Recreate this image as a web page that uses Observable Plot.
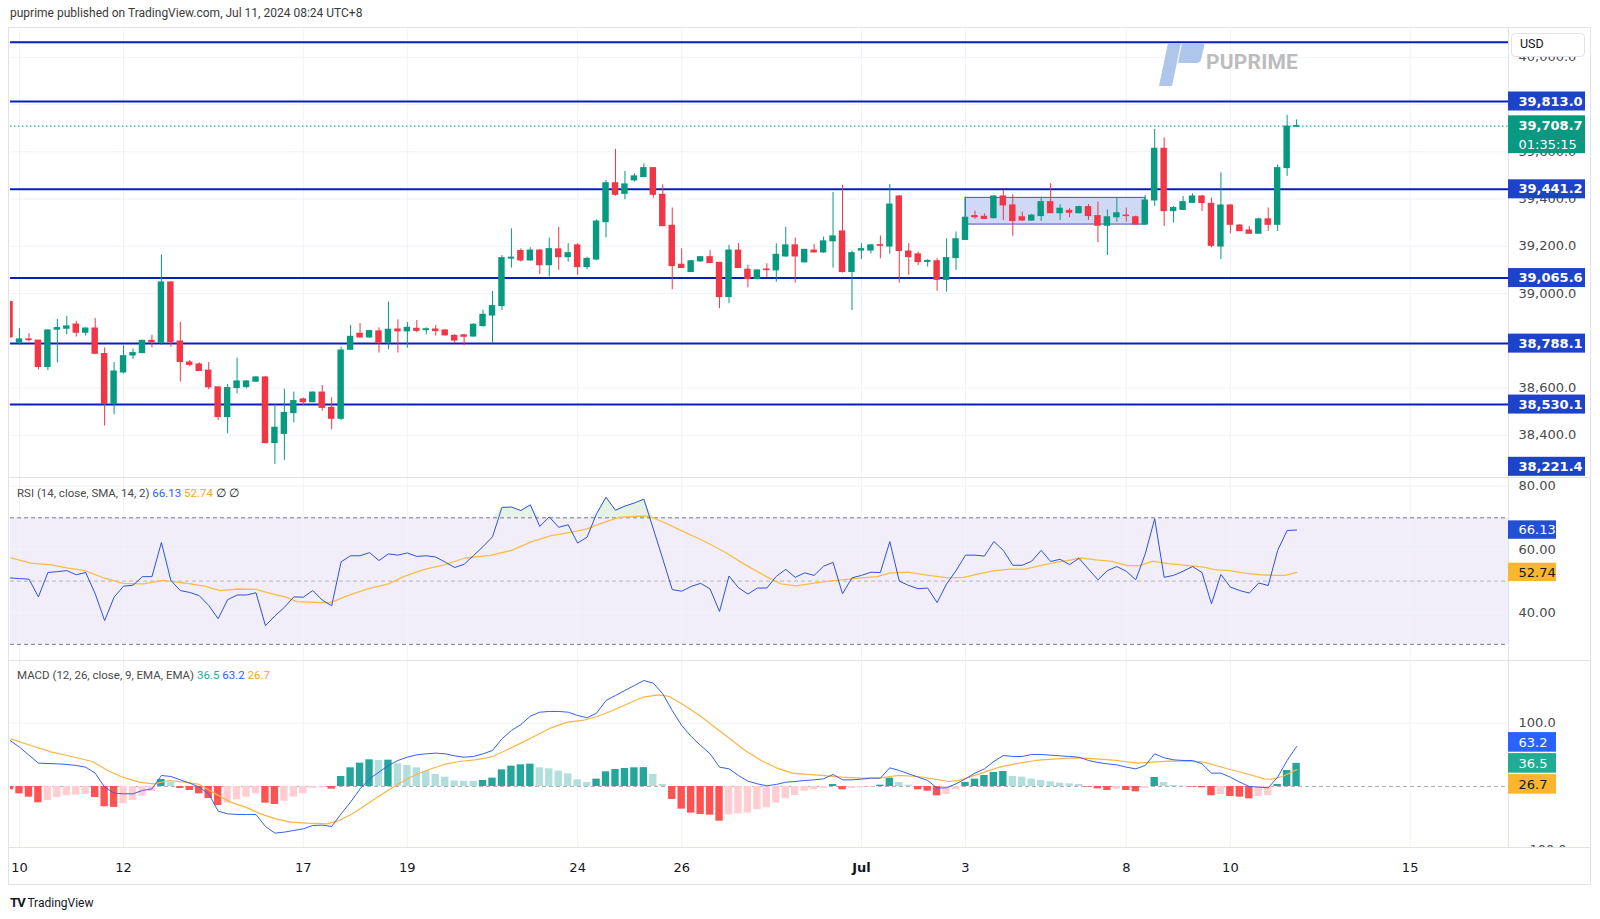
<!DOCTYPE html>
<html>
<head>
<meta charset="utf-8">
<script src="https://cdn.jsdelivr.net/npm/d3@7"></script>
<script src="https://cdn.jsdelivr.net/npm/@observablehq/plot@0.6"></script>
<style>
html,body{margin:0;padding:0;background:#fff;}
#wrap{position:relative;width:1600px;height:919px;overflow:hidden;font-family:Roboto,"Liberation Sans",sans-serif;color:#131722;}
.abs{position:absolute;}
.pane svg{display:block;}
.sep{position:absolute;left:9px;width:1581px;height:1px;background:#e0e3eb;}
</style>
</head>
<body>
<div id="wrap">
  <div class="abs" id="hdr" style="left:10px;top:6px;font-size:12px;color:#3a3a3a;white-space:nowrap">puprime published on TradingView.com, Jul 11, 2024 08:24 UTC+8</div>
  <div class="abs" style="left:8px;top:27px;width:1581px;height:856px;border:1px solid #e0e3eb;"></div>
  <div class="abs pane" id="pMain" style="left:0;top:27px"></div>
  <div class="abs pane" id="pRsi" style="left:0;top:477px"></div>
  <div class="abs pane" id="pMacd" style="left:0;top:660px"></div>
  <div class="abs pane" id="pTime" style="left:0;top:847px"></div>
  <div class="sep" style="top:477px"></div>
  <div class="sep" style="top:660px"></div>
  <div class="sep" style="top:847px"></div>
  <!-- watermark -->
  <svg class="abs" style="left:1150px;top:40px" width="160" height="50" viewBox="0 0 160 50">
    <path d="M18 3 L31 3 L22 46 L9 46 Z" fill="#aec5ec"/>
    <path d="M32 3 L52 3 Q55 3 54 7 L51 20 Q50 23 46 23 L28 23 Z" fill="#aec5ec"/>
  </svg>
  <div class="abs" style="left:1206px;top:50px;font:bold 21px Roboto,sans-serif;color:#bcbcbc;letter-spacing:0.2px">PUPRIME</div>
  <!-- currency button -->
  <div class="abs" style="left:1511px;top:33px;width:74px;height:24px;border:1px solid #e0e3eb;border-radius:4px;background:#fff;font-size:12.5px;line-height:19px;padding-left:8px;box-sizing:border-box">USD</div>
  <div class="abs" id="legRsi" style="left:17px;top:486px;font-size:11.5px;white-space:nowrap;color:#4a4a4a"></div>
  <div class="abs" id="legMacd" style="left:17px;top:668px;font-size:11.5px;white-space:nowrap;color:#4a4a4a"></div>
  <div class="abs" style="left:10px;top:895px;font-size:12px;white-space:nowrap;color:#131722"><b style="letter-spacing:-1px;font-size:13px">TV</b> TradingView</div>
</div>
<script>
// ================= DATA =================
const firstBar = -1; // bar index of the first (partially visible) candle; bar 0 = Jun 10
// OHLC of each 4h candle, bars -1 .. 135
const opens = [
38964,38792,38806,38801,38689,38847,38851,38869,38834,38852,
38744,38533,38666,38738,38748,38800,38792,39047,38797,38708,
38700,38674,38603,38477,38600,38604,38627,38645,38367,38406,
38494,38552,38540,38581,38516,38470,38762,38830,38814,38840,
38792,38848,38840,38851,38845,38848,38844,38821,38823,38818,
38862,38907,38947,39148,39180,39140,39182,39120,39187,39154,
39204,39112,39144,39302,39467,39422,39479,39493,39531,39418,
39287,39122,39091,39136,39154,39130,38985,39182,39101,39061,
39102,39098,39157,39204,39132,39182,39174,39221,39263,39091,
39182,39182,39205,39199,39411,39178,39166,39134,39137,39058,
39150,39227,39328,39325,39319,39411,39373,39323,39309,39328,
39387,39340,39350,39340,39366,39328,39287,39323,39330,39323,
39292,39394,39613,39349,39354,39384,39411,39380,39199,39373,
39288,39267,39253,39314,39291,39531,39706];
const highs = [
38968,38851,38830,38801,38847,38890,38903,38882,38855,38895,
38770,38708,38779,38765,38802,38823,39164,39051,38878,38717,
38707,38708,38603,38615,38727,38632,38649,38649,38529,38595,
38583,38557,38583,38611,38559,38773,38865,38873,38844,38855,
38964,38889,38878,38886,38855,38865,38847,38825,38827,38872,
38930,39009,39161,39274,39189,39194,39187,39235,39280,39211,
39211,39154,39312,39479,39610,39517,39507,39549,39532,39460,
39362,39189,39140,39157,39182,39130,39204,39211,39120,39101,
39126,39211,39281,39235,39188,39208,39239,39428,39458,39180,
39211,39208,39244,39462,39415,39211,39175,39143,39147,39232,
39260,39408,39349,39338,39415,39436,39418,39345,39335,39408,
39465,39376,39359,39370,39377,39387,39354,39405,39362,39328,
39415,39695,39659,39369,39411,39422,39415,39404,39511,39376,
39292,39284,39319,39362,39545,39754,39735];
const lows = [
38810,38780,38795,38677,38674,38706,38825,38816,38820,38742,
38439,38487,38660,38721,38745,38770,38780,38773,38625,38689,
38670,38593,38463,38406,38576,38597,38624,38364,38277,38294,
38452,38526,38538,38502,38423,38463,38759,38811,38811,38748,
38762,38748,38769,38834,38825,38820,38820,38790,38779,38816,
38858,38790,38928,39108,39133,39137,39081,39070,39098,39133,
39077,39100,39140,39236,39412,39397,39472,39490,39404,39285,
39016,39107,39090,39133,39128,38936,38957,39107,39024,39058,
39067,39048,39154,39044,39129,39172,39171,39108,39087,38928,
39144,39168,39147,39166,39044,39077,39119,39112,39010,39006,
39098,39225,39315,39314,39316,39309,39242,39307,39307,39305,
39340,39309,39321,39338,39309,39215,39161,39302,39302,39292,
39288,39369,39284,39298,39352,39383,39347,39194,39144,39253,
39264,39253,39252,39263,39263,39496,39704];
const closes = [
38815,38806,38803,38689,38844,38854,38861,38834,38852,38745,
38533,38670,38735,38748,38800,38794,39047,38794,38710,38698,
38672,38603,38477,38600,38628,38628,38645,38367,38432,38495,
38545,38540,38581,38516,38470,38759,38817,38814,38841,38792,
38847,38840,38855,38842,38849,38841,38823,38801,38817,38868,
38910,38947,39150,39152,39140,39182,39120,39188,39154,39171,
39112,39147,39305,39467,39418,39462,39496,39531,39418,39285,
39116,39108,39137,39154,39129,38985,39182,39108,39061,39098,
39099,39164,39204,39157,39185,39174,39221,39242,39091,39171,
39188,39204,39202,39377,39180,39154,39133,39138,39058,39150,
39230,39321,39323,39316,39411,39373,39307,39309,39330,39387,
39340,39359,39342,39366,39328,39287,39323,39340,39328,39292,
39394,39613,39349,39362,39387,39411,39383,39202,39373,39291,
39264,39253,39314,39291,39531,39707,39708.7];

// horizontal levels drawn on the chart
const levels = [40063.5, 39813.0, 39441.2, 39065.6, 38788.1, 38530.1, 38221.4];
const lastPrice = 39708.7;
const countdown = "01:35:15";
const rangeBoxBars = [100, 119];
const rangeBoxPrices = [39292, 39405];

// time axis
const dateTickBars = [0, 11, 30, 41, 59, 70, 89, 100, 117, 128, 147];
const dateTickLabels = ["10","12","17","19","24","26","Jul","3","8","10","15"];
const priceTicks = [38400, 38600, 38800, 39000, 39200, 39400, 39600, 39800, 40000];

// RSI(14) per bar, bars -1 .. 135
const rsi = [
51.0,50.8,50.6,45.0,52.7,53.0,53.3,52.0,52.7,46.0,
37.5,44.9,48.4,48.7,51.4,51.4,62.2,50.2,47.0,46.4,
45.4,42.3,38.1,44.1,45.6,45.6,46.3,35.9,39.0,41.7,
45.0,44.9,47.0,44.0,42.2,56.1,58.0,58.0,59.0,56.5,
58.6,58.2,58.9,57.8,58.0,57.6,56.0,54.3,55.3,58.1,
60.9,64.0,73.3,73.4,72.3,74.1,67.3,70.3,67.0,67.8,
62.0,63.9,71.3,76.5,72.4,73.7,74.7,75.9,66.5,57.0,
47.3,46.8,48.3,49.3,47.5,40.4,51.6,47.9,45.9,47.8,
47.8,51.5,53.7,51.2,52.6,51.8,54.7,55.9,46.0,51.0,
51.8,52.8,52.7,62.5,50.0,48.6,47.6,47.8,43.2,49.1,
53.3,58.2,58.2,57.9,62.5,59.7,55.0,55.0,56.3,59.7,
56.2,56.9,55.2,57.2,53.8,50.4,53.3,54.6,53.1,50.4,
58.6,69.7,51.2,51.8,53.1,54.6,52.7,42.8,52.1,48.1,
47.0,46.2,49.4,48.6,59.7,66.0,66.13];
const rsiRange = [30, 70];
const rsiGrid = [40, 60, 80];
// RSI SMA(14), read at the bar positions below
const rsiSmaBars = [-0.9,1.2,3.4,5.0,6.9,9.0,10.9,13.1,15.2,17.4,19.6,21.2,23.1,25.0,26.6,28.2,29.3,30.9,32.8,34.7,36.8,39.0,40.6,42.8,44.9,47.1,49.8,52.0,54.1,56.2,58.4,60.0,61.6,63.3,65.4,66.5,68.1,70.3,72.4,74.6,76.7,78.9,80.5,82.1,84.7,86.9,89.0,90.7,92.0,93.9,96.1,98.2,99.8,101.4,103.1,104.7,106.3,107.9,109.5,111.2,112.2,113.8,115.5,117.1,118.4,119.8,121.4,123.6,125.2,126.3,127.9,129.5,131.1,132.7,133.8,135.0];
const rsiSmaValues = [57.3,55.7,55.1,54.2,53.3,50.9,49.3,49.1,50.2,49.4,48.4,47.0,47.5,47.4,46.0,44.9,43.5,43.3,43.1,45.4,47.5,49.1,51.4,53.7,55.1,57.3,58.1,59.7,62.4,64.4,65.5,66.5,68.4,70.1,70.5,70.5,68.6,65.5,62.6,59.1,55.2,51.5,49.1,48.5,49.7,50.4,51.0,51.4,52.6,52.8,51.8,51.0,51.2,52.3,53.3,53.8,53.8,54.9,55.9,56.7,57.3,56.7,56.2,54.9,54.9,56.3,55.5,54.9,54.4,53.6,53.3,52.5,52.0,51.8,51.8,52.74];

// MACD(12,26,9): histogram and MACD line per bar, bars -1 .. 135
const macdHist = [
-5.3,-11.6,-16.9,-25.8,-22.1,-17.4,-14.7,-13.7,-12.6,-17.4,
-32,-33,-27.4,-22.1,-15.3,-7.9,11.1,6.8,-3.2,-6.3,
-11.6,-19,-30,-26.3,-21,-16.9,-11.6,-26.3,-28.4,-23.2,
-16.9,-11.6,-3.2,-2.1,-4.2,15.8,29.5,36.9,42.1,41.1,
41.6,35.8,33.2,29.5,24.2,19,14.7,8.8,8.2,8.0,
9.5,13.2,26.3,32.1,34.2,35.3,29.5,27.9,24.2,20,
10.5,6.3,11.6,23.2,26.9,28.4,29.5,29.8,19,3.2,
-20.5,-35.8,-42.1,-44.2,-45.3,-54.8,-44.8,-43.2,-42.1,-36.9,
-33.7,-26.3,-19.5,-14.2,-7.4,-5.3,-3,3.2,-5.3,-3.2,
-2.1,-1.1,2.1,13.2,6.3,2.1,-5.3,-7.4,-14.7,-12.6,
-5.3,6.3,11.6,17.4,22.1,23.7,15.8,14.7,11.6,9.5,
7.4,5.3,4.2,3.2,-1.1,-3.7,-6.3,-4.2,-6.3,-8.4,
-3.2,14.2,6.3,1.6,0.5,-1.1,-2.1,-14.7,-12.6,-15.8,
-16.9,-19.5,-15.8,-14.7,3.2,25.3,36.5];
const macdLine = [
72.7,62.1,49.5,36.9,36.3,35.8,34.8,33.2,30.5,21.1,
-1.1,-10.5,-11.6,-11.6,-6.3,-3.7,17.4,15.8,10.5,5.3,
-1.1,-11.6,-39,-43.2,-44.2,-44.2,-44.2,-63.2,-73.7,-72.1,
-69.5,-66.9,-61.6,-61.1,-63.2,-43.2,-24.7,-3.7,12.1,22.6,
33.2,41.1,46.3,50,51.6,52.7,51.6,48.4,46.3,47.4,
51.6,56.9,75.3,88.5,97.9,111.1,117.4,118.5,118.5,117.4,
112.2,108.5,115.8,135.9,143.8,151.7,159.6,167.5,163.2,146.4,
120.1,96.4,79,64.8,51.6,30.5,27.9,17.4,8.4,4.2,
1.1,3.2,6.8,7.9,9.5,10.5,12.1,19,10.5,10.5,
11.6,13.2,13.2,29.5,25.3,20,14.7,9.5,-2.6,-2.1,
4.2,12.1,21.1,27.9,39.5,49,47.4,47.4,50.6,50.6,
49.5,48.4,47.4,46.3,41.1,37.9,35.8,34.2,30.5,27.9,
33.2,51.6,45.3,42.1,41.1,41.1,35.8,21.1,21.1,14.7,
6.8,0,-1.1,-2.1,14.7,41.1,63.2];
// signal line, read at the bar positions below
const signalBars = [-0.9,1.2,3.4,5.5,7.7,9.3,10.9,12.6,14.2,15.8,17.4,19.0,20.6,22.3,23.9,25.5,27.1,28.7,30.4,32.5,33.6,35.2,36.8,38.4,40.1,41.7,43.3,44.9,46.5,48.1,49.8,51.4,53.0,54.6,56.2,57.9,59.5,61.1,62.7,64.3,65.9,67.6,68.7,70.3,71.9,73.5,75.1,76.7,78.4,80.0,81.7,82.6,84.7,86.9,89.0,90.9,92.8,95.0,96.6,98.2,99.3,100.4,102.0,103.6,105.2,107.4,109.5,111.7,113.8,116.0,118.2,119.8,121.4,123.6,125.2,126.8,128.4,130.0,131.6,132.4,133.5,135.0];
const signalValues = [75.3,64.8,54.2,47.4,39.5,25.3,14.7,6.8,4.2,9.5,6.8,3.2,-10.5,-24.7,-32.6,-43.2,-51.1,-56.3,-57.9,-59,-54.8,-43.2,-27.4,-11.6,4.2,17.4,26.9,34.8,39.5,42.1,46.3,56.9,68.5,80.6,92.7,101.6,104.3,110.6,120.1,130.6,141.1,144.8,142.2,128,112.2,93.7,75.3,56.9,41.1,29.5,21.1,20,17.4,14.7,13.2,13.2,17.4,15.8,12.1,7.9,9.5,14.7,22.6,30.5,35.8,41.1,43.7,45.3,43.7,41.1,36.9,38.4,40,40,38.4,31.6,25.3,19,12.1,11.6,15.8,26.7];
const macdGrid = [100, -100];

// ================= LAYOUT / STYLE =================
const UP = "#089981", DOWN = "#f23645";
const GRID = "#f0f3fa", AXIS_TXT = "#4a4a4a";
const FONT = "'DejaVu Sans', sans-serif";
const BAR0_PX = 19, BAR_STEP = 9.46;           // pixel of bar 0 and spacing of bars
const barAt = p => (p - BAR0_PX) / BAR_STEP;
const X_LEFT = barAt(10), X_RIGHT = barAt(1590), X_AXIS = barAt(1508);
const X_BOX_R = barAt(1585), X_SMALL_R = barAt(1556);
const MAIN = {h: 450, dom: [38221.4, 40126.2]};
const RSIP = {h: 183, dom: [24.89, 82.75]};
const MACP = {h: 187, dom: [-96.4, 199.05]};
const STYLE = {background: "transparent", overflow: "hidden", fontFamily: FONT};
const fmtP = d3.format(",.1f");

function pane(p, marks) {
  return Plot.plot({
    width: 1600, height: p.h, marginTop: 0, marginBottom: 0, marginLeft: 10, marginRight: 10,
    x: {type: "linear", domain: [X_LEFT, X_RIGHT], axis: null},
    y: {type: "linear", domain: p.dom, axis: null},
    color: {type: "identity"},
    style: STYLE,
    marks
  });
}
const L = () => X_LEFT, A = () => X_AXIS;

// ---------- main price pane ----------
const candles = opens.map((o, k) => ({
  i: firstBar + k, o, h: highs[k], l: lows[k], c: closes[k],
  lo: Math.min(o, closes[k]), hi: Math.max(o, closes[k]),
  col: closes[k] >= o ? UP : DOWN
}));
const mU = (MAIN.dom[1] - MAIN.dom[0]) / MAIN.h;   // price units per pixel
const tagHalf = 9.5 * mU;
// a level lying on the pane's bottom edge is only shown by its (clamped) tag
const drawnLevels = levels.filter(v => v > MAIN.dom[0] + 1.5 * mU);
const levelTags = levels.slice(1).map(v => ({v, y: Math.max(v, MAIN.dom[0] + 10.7 * mU), t: fmtP(v)}));
// tick labels that sit completely under a level tag are not drawn (TradingView hides them)
const shownTicks = priceTicks.filter(t => !levels.some(l => Math.abs(l - t) / mU < 5));

document.getElementById("pMain").append(pane(MAIN, [
  Plot.ruleY(priceTicks, {x1: L, x2: A, stroke: GRID}),
  Plot.ruleX(dateTickBars, {stroke: GRID}),
  Plot.rect([0], {x1: () => rangeBoxBars[0], x2: () => rangeBoxBars[1], y1: () => rangeBoxPrices[0], y2: () => rangeBoxPrices[1], fill: "#cfd8f4", stroke: "#4f4fbf", strokeWidth: 1}),
  Plot.ruleY(drawnLevels, {x1: L, x2: A, stroke: "#0a1dbd", strokeWidth: 2}),
  Plot.ruleY([lastPrice], {x1: L, x2: A, stroke: UP, strokeDasharray: "1.5,2.5"}),
  Plot.ruleX(candles, {x: "i", y1: "l", y2: "h", stroke: "col", strokeWidth: 1, clip: true}),
  Plot.rect(candles, {x1: d => d.i - 0.34, x2: d => d.i + 0.34, y1: "lo", y2: "hi", fill: "col", insetTop: -0.5, insetBottom: -0.5, clip: true}),
  Plot.ruleX([X_AXIS], {stroke: "#e0e3eb"}),
  Plot.text(shownTicks, {x: A, y: d => d, dx: 10, text: d => fmtP(d), textAnchor: "start", fill: AXIS_TXT, fontSize: 13}),
  Plot.rect(levelTags, {x1: A, x2: () => X_BOX_R, y1: d => d.y - tagHalf, y2: d => d.y + tagHalf, fill: "#1d43c8"}),
  Plot.text(levelTags, {x: A, y: "y", dx: 10, text: "t", textAnchor: "start", fill: "white", fontSize: 13, fontWeight: "bold"}),
  Plot.rect([lastPrice], {x1: A, x2: () => X_BOX_R, y1: d => d - 27.5 * mU, y2: d => d + 10.3 * mU, fill: UP}),
  Plot.text([lastPrice], {x: A, y: d => d, dx: 10, text: d => fmtP(d), textAnchor: "start", fill: "white", fontSize: 13, fontWeight: "bold"}),
  Plot.text([countdown], {x: A, y: () => lastPrice - 18.2 * mU, dx: 10, text: d => d, textAnchor: "start", fill: "white", fontSize: 13})
]));

// ---------- RSI pane ----------
const rsiData = rsi.map((v, k) => ({i: firstBar + k, v}));
const rsiSma = rsiSmaBars.map((b, k) => ({i: b, v: rsiSmaValues[k]}));
const rU = (RSIP.dom[1] - RSIP.dom[0]) / RSIP.h;
const lastRsi = rsi[rsi.length - 1], lastSma = rsiSmaValues[rsiSmaValues.length - 1];
const rsiTags = [
  {v: lastRsi, t: lastRsi.toFixed(2), bg: "#2150d6", fg: "white"},
  {v: lastSma, t: lastSma.toFixed(2), bg: "#f9b62e", fg: "#131722"}
];
document.getElementById("pRsi").append(pane(RSIP, [
  Plot.rect([0], {x1: L, x2: A, y1: () => rsiRange[0], y2: () => rsiRange[1], fill: "#7e57c2", fillOpacity: 0.1}),
  Plot.ruleY(rsiGrid, {x1: L, x2: A, stroke: GRID}),
  Plot.ruleX(dateTickBars, {stroke: GRID}),
  Plot.ruleY(rsiRange, {x1: L, x2: A, stroke: "#787b86", strokeDasharray: "4,3"}),
  Plot.ruleY([50], {x1: L, x2: A, stroke: "#787b86", strokeOpacity: 0.5, strokeDasharray: "4,3"}),
  Plot.areaY(rsiData, {x: "i", y1: () => rsiRange[1], y2: d => Math.max(rsiRange[1], d.v), fill: "#4caf50", fillOpacity: 0.15, clip: true}),
  Plot.line(rsiSma, {x: "i", y: "v", stroke: "#f8bd48", strokeWidth: 1.3, clip: true}),
  Plot.line(rsiData, {x: "i", y: "v", stroke: "#2e52d6", strokeWidth: 1, clip: true}),
  Plot.ruleX([X_AXIS], {stroke: "#e0e3eb"}),
  Plot.text(rsiGrid, {x: A, y: d => d, dx: 10, text: d => d.toFixed(2), textAnchor: "start", fill: AXIS_TXT, fontSize: 13}),
  Plot.rect(rsiTags, {x1: A, x2: () => X_SMALL_R, y1: d => d.v - 9.2 * rU, y2: d => d.v + 9.2 * rU, fill: "bg"}),
  Plot.text(rsiTags, {x: A, y: "v", dx: 10, text: "t", textAnchor: "start", fill: "fg", fontSize: 13})
]));

// ---------- MACD pane ----------
const hist = macdHist.map((v, k) => {
  const p = k > 0 ? macdHist[k - 1] : 0;
  const col = v >= 0 ? (v >= p ? "#26a69a" : "#b2dfdb") : (v < p ? "#ff5252" : "#ffcdd2");
  return {i: firstBar + k, v, col};
});
const macdData = macdLine.map((v, k) => ({i: firstBar + k, v}));
const signalData = signalBars.map((b, k) => ({i: b, v: signalValues[k]}));
const cU = (MACP.dom[1] - MACP.dom[0]) / MACP.h;
const lastHist = macdHist[macdHist.length - 1], lastMacd = macdLine[macdLine.length - 1], lastSig = signalValues[signalValues.length - 1];
const tagStep = 21 * cU;
const macdTags = [
  {y: lastHist + tagStep, t: lastMacd.toFixed(1), bg: "#2962ff", fg: "white"},
  {y: lastHist, t: lastHist.toFixed(1), bg: "#22ab94", fg: "white"},
  {y: lastHist - tagStep, t: lastSig.toFixed(1), bg: "#f9b62e", fg: "#131722"}
];
document.getElementById("pMacd").append(pane(MACP, [
  Plot.ruleY(macdGrid, {x1: L, x2: A, stroke: GRID}),
  Plot.ruleX(dateTickBars, {stroke: GRID}),
  Plot.ruleY([0], {x1: L, x2: A, stroke: "#787b86", strokeOpacity: 0.6, strokeDasharray: "4,3"}),
  Plot.rect(hist, {x1: d => d.i - 0.39, x2: d => d.i + 0.39, y1: () => 0, y2: "v", fill: "col", clip: true}),
  Plot.line(signalData, {x: "i", y: "v", stroke: "#fbb444", strokeWidth: 1.2, clip: true}),
  Plot.line(macdData, {x: "i", y: "v", stroke: "#3461f0", strokeWidth: 1, clip: true}),
  Plot.ruleX([X_AXIS], {stroke: "#e0e3eb"}),
  Plot.text(macdGrid, {x: A, y: d => d, dx: 10, text: d => (d < 0 ? "\u2212" : "") + Math.abs(d).toFixed(1), textAnchor: "start", fill: AXIS_TXT, fontSize: 13}),
  Plot.rect(macdTags, {x1: A, x2: () => X_SMALL_R, y1: d => d.y - 9.8 * cU, y2: d => d.y + 9.8 * cU, fill: "bg"}),
  Plot.text(macdTags, {x: A, y: "y", dx: 10, text: "t", textAnchor: "start", fill: "fg", fontSize: 13})
]));

// ---------- time axis ----------
const dateTicks = dateTickBars.map((b, k) => ({i: b, t: dateTickLabels[k]}));
document.getElementById("pTime").append(Plot.plot({
  width: 1600, height: 37, marginTop: 0, marginBottom: 0, marginLeft: 10, marginRight: 10,
  x: {type: "linear", domain: [X_LEFT, X_RIGHT], axis: null},
  y: {type: "linear", domain: [37, 0], axis: null},
  style: STYLE,
  marks: [
    Plot.text(dateTicks.filter(d => d.t !== "Jul"), {x: "i", y: () => 20, text: "t", fill: "#131722", fontSize: 13}),
    Plot.text(dateTicks.filter(d => d.t === "Jul"), {x: "i", y: () => 20, text: "t", fill: "#131722", fontSize: 13, fontWeight: "bold"})
  ]
}));

// ---------- legends ----------
document.getElementById("legRsi").innerHTML =
  `RSI (14, close, SMA, 14, 2) <span style="color:#2962ff">${lastRsi.toFixed(2)}</span> <span style="color:#f5a623">${lastSma.toFixed(2)}</span> <span style="color:#131722">\u2205</span> <span style="color:#131722">\u2205</span>`;
document.getElementById("legMacd").innerHTML =
  `MACD (12, 26, close, 9, EMA, EMA) <span style="color:#22ab94">${lastHist.toFixed(1)}</span> <span style="color:#2962ff">${lastMacd.toFixed(1)}</span> <span style="color:#f5a623">${lastSig.toFixed(1)}</span>`;
</script>
</body>
</html>
